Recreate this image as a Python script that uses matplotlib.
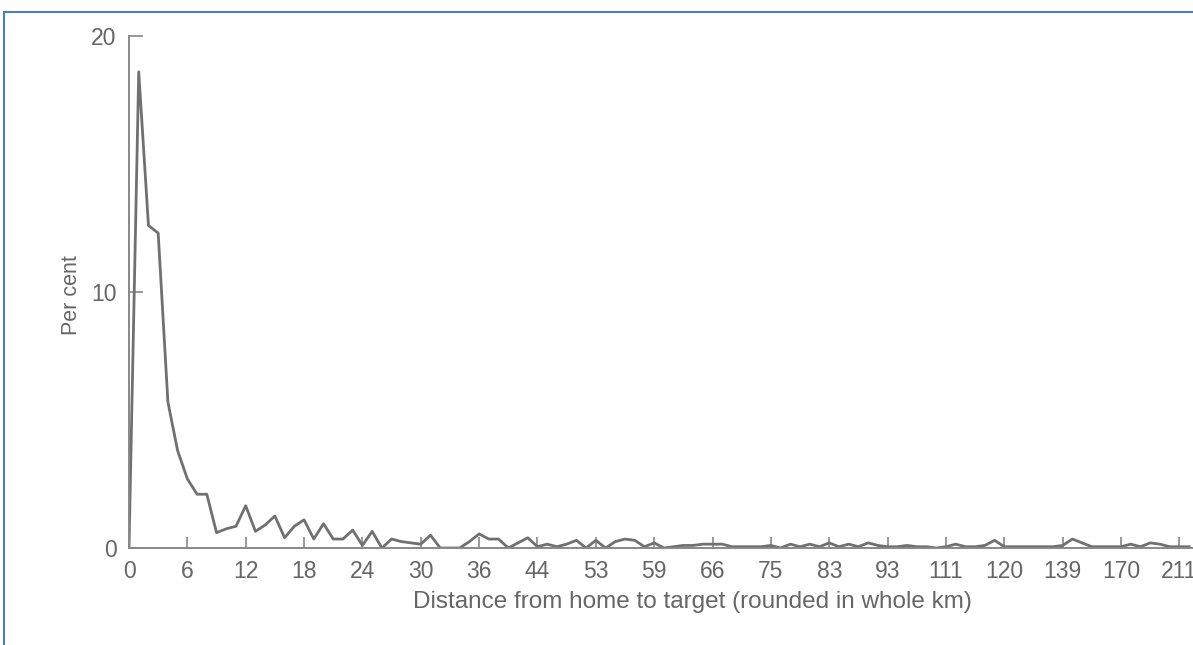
import matplotlib.pyplot as plt
from matplotlib.lines import Line2D

# per cent of offences by distance class (one value per distinct distance)
percent = [
    0.0, 18.6, 12.6, 12.3, 5.7, 3.8, 2.7, 2.1, 2.1, 0.6,
    0.75, 0.85, 1.65, 0.65, 0.9, 1.25, 0.4, 0.85, 1.1, 0.35,
    0.95, 0.35, 0.35, 0.7, 0.1, 0.65, 0.0, 0.35, 0.25, 0.2,
    0.15, 0.5, 0.0, 0.0, 0.0, 0.25, 0.55, 0.35, 0.35, 0.0,
    0.2, 0.4, 0.05, 0.15, 0.05, 0.15, 0.3, 0.0, 0.3, 0.0,
    0.25, 0.35, 0.3, 0.05, 0.2, 0.0, 0.05, 0.1, 0.1, 0.15,
    0.15, 0.15, 0.05, 0.05, 0.05, 0.05, 0.1, 0.0, 0.15, 0.05,
    0.15, 0.05, 0.2, 0.05, 0.15, 0.05, 0.2, 0.1, 0.05, 0.05,
    0.1, 0.05, 0.05, 0.0, 0.05, 0.15, 0.05, 0.05, 0.1, 0.3,
    0.05, 0.05, 0.05, 0.05, 0.05, 0.05, 0.1, 0.35, 0.2, 0.05,
    0.05, 0.05, 0.05, 0.15, 0.05, 0.2, 0.15, 0.05, 0.05, 0.05,
]
tick_labels = ['0', '6', '12', '18', '24', '30', '36', '44', '53', '59',
               '66', '75', '83', '93', '111', '120', '139', '170', '211']

plt.rcParams['font.family'] = ['Liberation Sans', 'DejaVu Sans']

fig = plt.figure(figsize=(11.93, 6.45), dpi=100)
ax = fig.add_axes([129 / 1193, 97 / 645, 1 - 129 / 1193, 512 / 645])

gray = '#707070'
ax.plot(range(len(percent)), percent, color=gray, lw=2.0)

ax.set_xlim(0, 109.4)
ax.set_ylim(0, 20)
ax.set_xticks([6 * i for i in range(len(tick_labels))])
ax.set_xticklabels(tick_labels)
ax.set_yticks([0, 10, 20])

for s in ['top', 'right']:
    ax.spines[s].set_visible(False)
for s in ['left', 'bottom']:
    ax.spines[s].set_color('#888888')
    ax.spines[s].set_linewidth(1.4)

ax.tick_params(axis='both', direction='in', colors='#888888', labelcolor='#666666',
               labelsize=16.5, width=1.2)
ax.tick_params(axis='x', length=8, pad=9)
ax.tick_params(axis='y', length=10, pad=9)

ax.set_xlabel('Distance from home to target (rounded in whole km)', fontsize=17.5, color='#666666')
ax.set_ylabel('Per cent', fontsize=15.5, color='#666666')
ax.xaxis.set_label_coords(0.53, -0.084)
ax.yaxis.set_label_coords(-0.044, 0.494)

# blue frame of the scanned figure
blue = '#4a7ebb'
fig.add_artist(Line2D([4 / 1193, 4 / 1193], [0, 1 - 12 / 645], color=blue, lw=1.5))
fig.add_artist(Line2D([4 / 1193, 1], [1 - 12 / 645, 1 - 12 / 645], color=blue, lw=1.5))

plt.savefig('out.png', dpi=100)
